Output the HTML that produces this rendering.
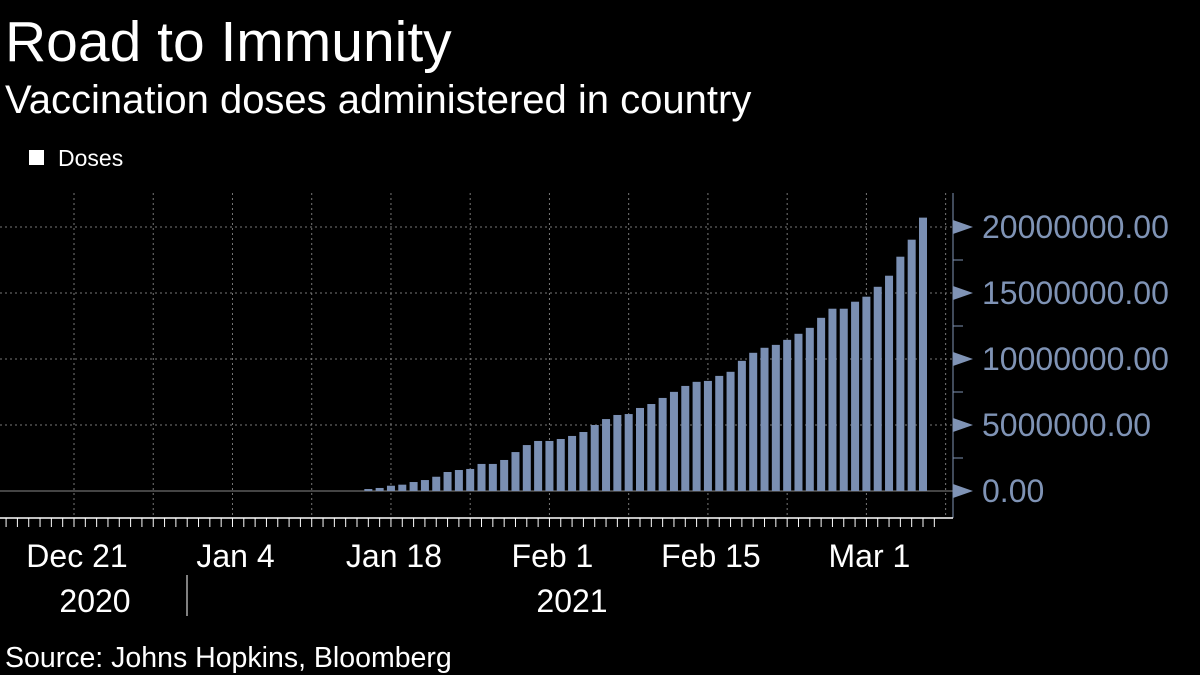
<!DOCTYPE html>
<html><head><meta charset="utf-8"><style>
body{margin:0;background:#000;width:1200px;height:675px;overflow:hidden;font-family:"Liberation Sans",sans-serif;}
svg{display:block}
</style></head><body>
<svg width="1200" height="675">
<text x="5" y="61" fill="#fff" font-size="57">Road to Immunity</text>
<text x="5" y="113" fill="#fff" font-size="40">Vaccination doses administered in country</text>
<rect x="29" y="150" width="15" height="15" fill="#fff"/>
<text x="58" y="166" fill="#fff" font-size="23">Doses</text>
<g id="grid"></g><g id="bars"></g><g id="axes"></g>
<line x1="187" y1="575" x2="187" y2="616" stroke="#fff" stroke-width="1"/>
<text x="95" y="612" fill="#fff" font-size="32" text-anchor="middle">2020</text>
<text x="572" y="612" fill="#fff" font-size="32" text-anchor="middle">2021</text>
<text x="5" y="667" fill="#fff" font-size="28.5">Source: Johns Hopkins, Bloomberg</text>
</svg>
<script>
const firstDay = 26; // days after Dec 21
const doses = [0.15,0.23,0.4,0.48,0.68,0.83,1.08,1.44,1.59,1.67,2.05,2.05,2.35,2.95,3.48,3.79,3.79,3.94,4.17,4.47,5.0,5.45,5.76,5.83,6.29,6.59,7.05,7.51,7.96,8.27,8.34,8.72,9.03,9.86,10.47,10.85,11.07,11.45,11.91,12.36,13.12,13.81,13.81,14.34,14.72,15.47,16.31,17.75,19.04,20.71];
const yTicks = [0,5,10,15,20];
const yTickLabels = ["0.00","5000000.00","10000000.00","15000000.00","20000000.00"];
const xTickDays = [0,14,28,42,56,70];
const xTickLabels = ["Dec 21","Jan 4","Jan 18","Feb 1","Feb 15","Mar 1"];
const NS="http://www.w3.org/2000/svg";
const x = d => 74 + d*11.32;
const y = v => 491 - v*13.2;
function mk(tag, attrs, parent){const e=document.createElementNS(NS,tag);for(const k in attrs)e.setAttribute(k,attrs[k]);document.getElementById(parent).appendChild(e);return e;}
for(let d=0; d<=77; d+=7){
  const g=mk('line',{x1:x(d),x2:x(d),y1:193,y2:517,stroke:'#777','stroke-dasharray':'2,3','stroke-width':1},'grid');
  
  
}
yTicks.forEach((v,i)=>{
  if(v>0){const g=mk('line',{x1:0,x2:953,y1:y(v),y2:y(v),stroke:'#777','stroke-dasharray':'2,3'},'grid');
  
  }
  const a=mk('polygon',{points:`953,${y(v)-7} 973,${y(v)} 953,${y(v)+7}`,fill:'#7f93b5'},'axes');
  
  
  const t=mk('text',{x:982,y:y(v)+11,fill:'#7f93b5','font-size':32},'axes');
  t.textContent=yTickLabels[i];
  
  
});
for(let v=2.5; v<22; v+=5){
  const m=mk('line',{x1:953,x2:963,y1:y(v),y2:y(v),stroke:'#7f93b5'},'axes');
  
  
}
const base=mk('line',{x1:0,x2:953,y1:491,y2:491,stroke:'#888','stroke-width':1},'grid');


doses.forEach((v,i)=>{
  const cx=x(firstDay+i);
  const b=mk('rect',{x:cx-4,y:y(v),width:8,height:491-y(v),fill:'#7a8fb3'},'bars');
  
  
});
const ya=mk('line',{x1:953,x2:953,y1:193,y2:518,stroke:'#7f93b5'},'axes');


const xa=mk('line',{x1:0,x2:953,y1:518,y2:518,stroke:'#fff','stroke-width':1.5},'axes');


for(let d=-6; d<=76; d++){
  const t=mk('line',{x1:x(d),x2:x(d),y1:518,y2:527,stroke:'#fff'},'axes');
  
  
}
xTickDays.forEach((d,i)=>{
  const t=mk('text',{x:x(d)+3,y:567,fill:'#fff','font-size':32,'text-anchor':'middle'},'axes');
  t.textContent=xTickLabels[i];
  
  
});
</script>
</body></html>
